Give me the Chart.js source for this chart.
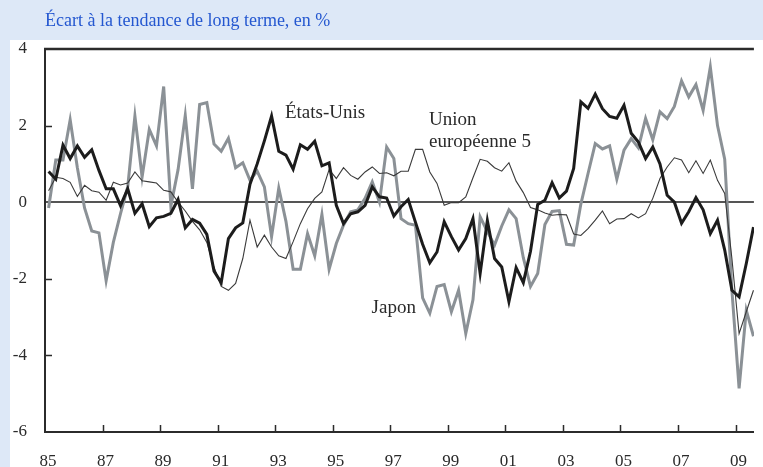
<!DOCTYPE html>
<html><head><meta charset="utf-8">
<script src="https://cdn.jsdelivr.net/npm/chart.js@4/dist/chart.umd.min.js"></script>
<style>html,body{margin:0;padding:0;background:#fff;}canvas{display:block;}</style>
</head><body>
<canvas id="c" width="763" height="467"></canvas>
<script>
const titleText = "Écart à la tendance de long terme, en %";

// Quarterly categories 1985T1 .. 2009T3
const quarters = [];
for (let y = 1985; y <= 2009; y++) for (let q = 1; q <= 4; q++) quarters.push(y + 'T' + q);
quarters.length = 99;

const etatsUnis = [
  0.8, 0.6, 1.49, 1.14, 1.47, 1.17, 1.37, 0.83, 0.35, 0.35,
  -0.09, 0.35, -0.29, -0.04, -0.64, -0.41, -0.37, -0.29, 0.07, -0.67,
  -0.45, -0.55, -0.84, -1.8, -2.1, -0.95, -0.67, -0.54, 0.47, 1.0,
  1.6, 2.25, 1.33, 1.23, 0.86, 1.5, 1.38, 1.59, 0.95, 1.03,
  -0.08, -0.56, -0.3, -0.25, -0.08, 0.4, 0.14, 0.11, -0.36, -0.12,
  0.07, -0.52, -1.1, -1.58, -1.3, -0.51, -0.9, -1.25, -0.95, -0.43,
  -1.86, -0.48, -1.47, -1.69, -2.6, -1.71, -2.1, -1.28, -0.06, 0.05,
  0.51, 0.11, 0.29, 0.88, 2.62, 2.45, 2.82, 2.44, 2.24, 2.19,
  2.53, 1.8, 1.57, 1.14, 1.44, 1.0, 0.18, 0.0, -0.55, -0.25,
  0.12, -0.2, -0.82, -0.47, -1.25, -2.3, -2.47, -1.6, -0.65
];

const unionEuropeenne5 = [
  0.3, 0.65, 0.62, 0.52, 0.15, 0.44, 0.3, 0.26, 0.05, 0.52,
  0.45, 0.5, 0.79, 0.56, 0.53, 0.5, 0.31, 0.27, 0.0, -0.23,
  -0.5, -0.72, -1.05, -1.7, -2.2, -2.3, -2.12, -1.47, -0.47, -1.17,
  -0.86, -1.17, -1.4, -1.47, -1.03, -0.56, -0.17, 0.1, 0.27, 0.85,
  0.62, 0.9, 0.7, 0.6, 0.79, 0.92, 0.75, 0.77, 0.69, 0.81,
  0.81, 1.38, 1.38, 0.79, 0.49, -0.08, -0.01, -0.01, 0.14, 0.64,
  1.12, 1.07, 0.9, 0.81, 1.03, 0.55, 0.25, -0.14, -0.2, -0.28,
  -0.34, -0.32, -0.33, -0.83, -0.87, -0.69, -0.47, -0.23, -0.56, -0.44,
  -0.43, -0.3, -0.41, -0.3, 0.1, 0.62, 0.92, 1.16, 1.1, 0.77,
  1.08, 0.75, 1.1, 0.57, 0.23, -1.47, -3.43, -2.86, -2.3
];

const japon = [
  -0.15, 1.1, 1.1, 2.15, 0.9, -0.15, -0.75, -0.8, -2.05, -1.05,
  -0.3, 0.4, 2.25, 0.66, 1.9, 1.47, 3.02, -0.1, 0.85, 2.27,
  0.35, 2.55, 2.6, 1.52, 1.33, 1.67, 0.9, 1.03, 0.57, 0.81,
  0.4, -0.9, 0.37, -0.5, -1.75, -1.75, -0.82, -1.4, -0.32, -1.75,
  -1.08, -0.6, -0.25, -0.2, 0.1, 0.53, 0.0, 1.44, 1.14, -0.43,
  -0.56, -0.6, -2.5, -2.9, -2.2, -2.15, -2.86, -2.3, -3.43, -2.55,
  -0.38, -0.77, -1.12, -0.62, -0.2, -0.43, -1.45, -2.2, -1.86, -0.58,
  -0.24, -0.22, -1.1, -1.12, -0.05, 0.75, 1.53, 1.39, 1.47, 0.6,
  1.36, 1.66, 1.42, 2.19, 1.63, 2.36, 2.18, 2.5, 3.17, 2.75,
  3.07, 2.4, 3.53, 2.0, 1.12, -2.3, -4.86, -2.82, -3.5
];

const xTickYears = [1985, 1987, 1989, 1991, 1993, 1995, 1997, 1999, 2001, 2003, 2005, 2007, 2009];
const xTickLabels = ['85', '87', '89', '91', '93', '95', '97', '99', '01', '03', '05', '07', '09'];
const yTickValues = [4, 2, 0, -2, -4, -6];

// Series name labels (anchored in data units)
const seriesNotes = [
  { text: 'États-Unis', x: 1993.34, y: 2.32 },
  { text: 'Union', x: 1998.35, y: 2.14 },
  { text: 'européenne 5', x: 1998.35, y: 1.57 },
  { text: 'Japon', x: 1996.35, y: -2.77 }
];

function qx(label) {
  const [y, q] = label.split('T').map(Number);
  return y + (q - 0.5) / 4;
}
function toPoints(vals) {
  return vals.map((v, i) => ({ x: qx(quarters[i]), y: v }));
}

const SERIF = '"Liberation Serif", "DejaVu Serif", serif';
const BLUE_BG = '#dde8f7';
const AXIS = '#2b2b2b';

const decor = {
  id: 'decor',
  beforeDraw(chart) {
    const ctx = chart.ctx;
    ctx.save();
    ctx.fillStyle = '#ffffff';
    ctx.fillRect(0, 0, chart.width, chart.height);
    ctx.fillStyle = BLUE_BG;
    ctx.fillRect(0, 0, chart.width, 40);
    ctx.fillRect(0, 0, 10, chart.height);
    ctx.fillStyle = '#2457d0';
    ctx.font = '18px ' + SERIF;
    ctx.textBaseline = 'alphabetic';
    ctx.textAlign = 'left';
    ctx.fillText(titleText, 45, 26);
    ctx.restore();
  },
  afterDraw(chart) {
    const ctx = chart.ctx;
    const a = chart.chartArea;
    const xs = chart.scales.x, ys = chart.scales.y;
    ctx.save();
    // top frame
    ctx.strokeStyle = AXIS;
    ctx.lineWidth = 2.5;
    ctx.beginPath();
    ctx.moveTo(a.left - 1, a.top);
    ctx.lineTo(a.right, a.top);
    ctx.stroke();
    // inward tick marks
    ctx.lineWidth = 1.5;
    ctx.beginPath();
    xTickYears.forEach(v => {
      if (v === xTickYears[0]) return;
      const px = Math.round(xs.getPixelForValue(v)) + 0.5;
      ctx.moveTo(px, a.bottom);
      ctx.lineTo(px, a.bottom - 7);
    });
    yTickValues.forEach(v => {
      if (v === 4 || v === 0 || v === -6) return;
      const py = Math.round(ys.getPixelForValue(v)) + 0.5;
      ctx.moveTo(a.left, py);
      ctx.lineTo(a.left + 7, py);
    });
    ctx.stroke();
    // series notes
    ctx.fillStyle = '#2a2a2a';
    ctx.font = '19px ' + SERIF;
    ctx.textAlign = 'left';
    ctx.textBaseline = 'middle';
    seriesNotes.forEach(n => {
      ctx.fillText(n.text, xs.getPixelForValue(n.x), ys.getPixelForValue(n.y));
    });
    ctx.restore();
  }
};

new Chart(document.getElementById('c'), {
  type: 'line',
  data: {
    datasets: [
      { label: 'États-Unis', data: toPoints(etatsUnis), borderColor: '#1c1c1c', borderWidth: 3, order: 0 },
      { label: 'Union européenne 5', data: toPoints(unionEuropeenne5), borderColor: '#3a3a3a', borderWidth: 1.1, order: 1 },
      { label: 'Japon', data: toPoints(japon), borderColor: '#8b9196', borderWidth: 3, order: 2 }
    ]
  },
  options: {
    responsive: false,
    animation: false,
    devicePixelRatio: 1,
    elements: {
      point: { radius: 0, hoverRadius: 0 },
      line: { tension: 0, borderJoinStyle: 'miter', fill: false }
    },
    layout: { padding: { top: 49, left: 0, right: 0, bottom: 0 } },
    plugins: { legend: { display: false }, tooltip: { enabled: false }, title: { display: false } },
    scales: {
      x: {
        type: 'linear',
        min: 1985,
        max: 2009.64,
        afterFit(s) { s.height = 35; },
        afterBuildTicks(s) { s.ticks = xTickYears.map(v => ({ value: v })); },
        ticks: {
          autoSkip: false,
          maxRotation: 0,
          padding: 19,
          labelOffset: 3,
          color: '#2a2a2a',
          font: { family: SERIF, size: 17 },
          callback: (v) => xTickLabels[xTickYears.indexOf(v)]
        },
        grid: { display: false, drawTicks: false },
        border: { display: true, color: AXIS, width: 2 }
      },
      y: {
        type: 'linear',
        min: -6,
        max: 4,
        afterFit(s) { s.width = 45; },
        afterBuildTicks(s) { s.ticks = yTickValues.map(v => ({ value: v })); },
        ticks: {
          padding: 18,
          color: '#2a2a2a',
          font: { family: SERIF, size: 17 },
          callback: (v) => String(v)
        },
        grid: {
          drawTicks: false,
          color: (c) => (c.tick && c.tick.value === 0 ? '#555555' : 'rgba(0,0,0,0)'),
          lineWidth: (c) => (c.tick && c.tick.value === 0 ? 2 : 0)
        },
        border: { display: true, color: AXIS, width: 2 }
      }
    }
  },
  plugins: [decor]
});
</script>
</body></html>
